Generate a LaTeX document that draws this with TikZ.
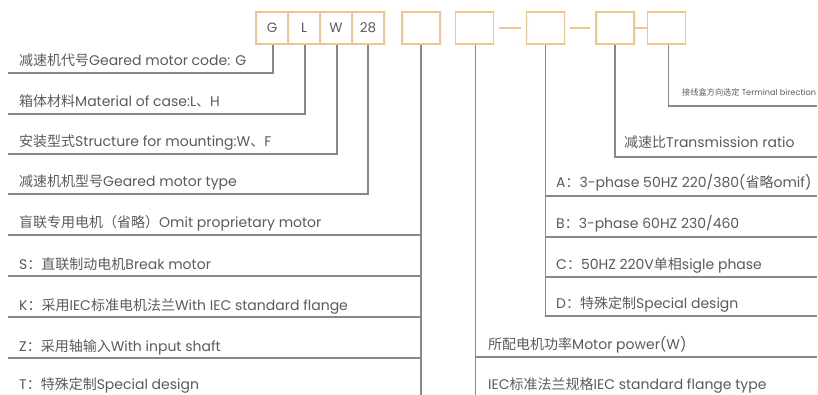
\documentclass[tikz,border=0pt]{standalone}
\usepackage{fontspec}
\setmainfont{Poppins}
\newfontfamily\cjk{Noto Sans CJK SC}
\definecolor{boxc}{HTML}{F5C28C}
\definecolor{linec}{HTML}{888888}
\definecolor{txtc}{HTML}{5A5A5A}
\begin{document}
\begin{tikzpicture}[x=1pt,y=-1pt,
  codebox/.style={draw=boxc, line width=1.1pt, minimum width=32pt, minimum height=32pt, inner sep=0pt, text=txtc, font=\fontsize{13.5}{13.5}\selectfont},
  wbox/.style={codebox, minimum width=38pt},
  lead/.style={draw=linec, line width=1.3pt},
  joinline/.style={draw=boxc, line width=1.1pt},
  lbl/.style={anchor=base west, inner sep=0pt, text=txtc, font=\fontsize{14}{14}\selectfont},
  smalllbl/.style={lbl, font=\fontsize{8.2}{8.2}\selectfont}]
\useasboundingbox (0,0) rectangle (818,395);
% code boxes
\node[codebox] (bG) at (272,28) {G};
\node[codebox] (bL) at (304,28) {L};
\node[codebox] (bW) at (336,28) {W};
\node[codebox] (b28) at (368,28) {28};
\node[wbox] (b5) at (421,28) {};
\node[wbox] (b6) at (474.5,28) {};
\node[wbox] (b7) at (545.5,28) {};
\node[wbox] (b8) at (615,28) {};
\node[wbox] (b9) at (666.5,28) {};
\draw[joinline, shorten <=5pt, shorten >=5pt] (b6.east) -- (b7.west);
\draw[joinline, shorten <=5pt, shorten >=5pt] (b7.east) -- (b8.west);
\draw[joinline] (b8.east) -- (b9.west);
% left leads
\coordinate (eG) at (8,73);
\coordinate (eL) at (8,114);
\coordinate (eW) at (8,154);
\coordinate (e28) at (8,194);
\draw[lead] ([xshift=1pt]bG.south) |- (eG);
\draw[lead] ([xshift=1pt]bL.south) |- (eL);
\draw[lead] ([xshift=1pt]bW.south) |- (eW);
\draw[lead] (b28.south) |- (e28);
\coordinate (e5) at (421,395);
\draw[lead] (b5.south) -- (e5);
\foreach \yy/\nm in {235/h1,276/h2,317/h3,358/h4}{
  \coordinate (\nm) at (8,\yy);
  \draw[lead] (\nm) -- (\nm -| b5.south);
}
% right leads
\coordinate (e9) at (817,106);
\coordinate (e8) at (817,157);
\coordinate (e7) at (817,316);
\draw[lead] ([xshift=2pt]b9.south) |- (e9);
\draw[lead] (b8.south) |- (e8);
\draw[lead] (b7.south) |- (e7);
\foreach \yy/\nm in {196/r1,237/r2,277/r3}{
  \coordinate (\nm) at (817,\yy);
  \draw[lead] (\nm -| b7.south) -- (\nm);
}
\coordinate (e6) at (475.5,395);
\draw[lead] ([xshift=1pt]b6.south) -- (e6);
\coordinate (r4) at (817,357);
\draw[lead] (r4 -| e6) -- (r4);
% left labels
\node[lbl] (tG) at (19,66) {{\cjk 减速机代号}Geared motor code:\hspace{5pt}G};
\node[lbl] (tL) at (19,107) {{\cjk 箱体材料}Material of case:L{\cjk 、}H};
\node[lbl] (tW) at (19,147) {{\cjk 安装型式}Structure for mounting:W{\cjk 、}F};
\node[lbl] (t28) at (19,187) {{\cjk 减速机机型号}Geared motor type};
\node[lbl] (t5a) at (19,228) {{\cjk 盲联专用电机（省略）}Omit proprietary motor};
\node[lbl] (t5b) at (19,269) {S{\cjk ：直联制动电机}Break motor};
\node[lbl] (t5c) at (19,310) {K{\cjk ：采用}IEC{\cjk 标准电机法兰}With IEC standard flange};
\node[lbl] (t5d) at (19,351) {Z{\cjk ：采用轴输入}With input shaft};
\node[lbl] (t5e) at (19,389) {T{\cjk ：特殊定制}Special design};
% right labels
\node[smalllbl] (t9) at (682,96) {{\cjk 接线盒方向选定} Terminal birection};
\node[lbl] (t8) at (624,148) {{\cjk 减速比}Transmission ratio};
\node[lbl] (t7a) at (556,188) {A{\cjk ：}3-phase 50HZ 220/380({\cjk 省略}omif)};
\node[lbl] (t7b) at (556,229) {B{\cjk ：}3-phase 60HZ 230/460};
\node[lbl] (t7c) at (556,269) {C{\cjk ：}50HZ 220V{\cjk 单相}sigle phase};
\node[lbl] (t7d) at (556,308) {D{\cjk ：特殊定制}Special design};
\node[lbl] (t6a) at (488,349) {{\cjk 所配电机功率}Motor power(W)};
\node[lbl] (t6b) at (488,389) {IEC{\cjk 标准法兰规格}IEC standard flange type};
\end{tikzpicture}
\end{document}
